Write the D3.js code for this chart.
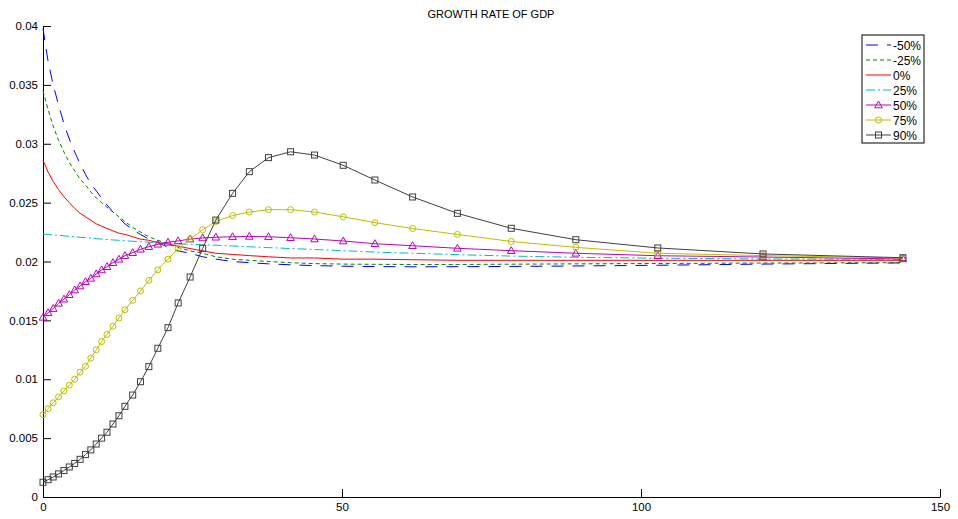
<!DOCTYPE html>
<html><head><meta charset="utf-8">
<script src="https://cdn.jsdelivr.net/npm/d3@7"></script>
<style>
body{margin:0;background:#fff}
svg{display:block}
text{font-family:"Liberation Sans",Arial,Helvetica,sans-serif}
</style>
</head><body>
<svg id="chart" width="958" height="519"></svg>
<script>
// ---------- DATA ----------
const title = "GROWTH RATE OF GDP";
const seriesLabels = ["-50%", "-25%", "0%", "25%", "50%", "75%", "90%"];
const horizon = [0, 0.85, 1.7, 2.6, 3.5, 4.4, 5.3, 6.2, 7.1, 8.0, 8.9, 9.8, 10.7, 11.7, 12.7, 13.7,
  15.0, 16.3, 17.7, 19.2, 20.9, 22.6, 24.6, 26.7, 28.9, 31.7, 34.5, 37.7, 41.4, 45.4, 50.2, 55.5,
  61.8, 69.3, 78.3, 89.1, 102.8, 120.4, 143.8];
const gMinus50 = [0.0398, 0.0370, 0.0350, 0.0333, 0.0317, 0.0304, 0.0293, 0.0283, 0.0274, 0.0266, 0.0260, 0.0254, 0.0248, 0.0242, 0.0237, 0.0232,
  0.0227, 0.0223, 0.0219, 0.0216, 0.0212, 0.0209, 0.0207, 0.0204, 0.0202, 0.0200, 0.0199, 0.0198, 0.01972, 0.01965, 0.0196, 0.01957,
  0.01955, 0.01956, 0.01958, 0.01962, 0.01968, 0.01978, 0.01988];
const gMinus25 = [0.0345, 0.0329, 0.0315, 0.0303, 0.0293, 0.0284, 0.0277, 0.0270, 0.0265, 0.0259, 0.0254, 0.0250, 0.0246, 0.0242, 0.0238, 0.0234,
  0.0229, 0.0225, 0.0221, 0.0218, 0.0215, 0.0212, 0.0209, 0.0207, 0.0204, 0.0202, 0.0201, 0.0200, 0.0199, 0.01982, 0.01978, 0.01976,
  0.01975, 0.01975, 0.01977, 0.0198, 0.01983, 0.01987, 0.0199];
const gZero = [0.0286, 0.0276, 0.0268, 0.0261, 0.0255, 0.0250, 0.0245, 0.0241, 0.0238, 0.0235, 0.0232, 0.0230, 0.0228, 0.0226, 0.0224, 0.0223,
  0.0221, 0.0219, 0.0218, 0.0216, 0.0215, 0.0213, 0.0211, 0.0209, 0.0207, 0.0206, 0.0205, 0.0204, 0.0203, 0.0203, 0.0202, 0.0202,
  0.02015, 0.0201, 0.0201, 0.0201, 0.0201, 0.0201, 0.0201];
const gPlus25 = [0.02233, 0.0223, 0.02226, 0.02222, 0.02218, 0.02214, 0.0221, 0.02206, 0.02202, 0.02198, 0.02194, 0.0219, 0.02187, 0.02183, 0.0218, 0.02176,
  0.02172, 0.02168, 0.02164, 0.0216, 0.02155, 0.0215, 0.02146, 0.02142, 0.02138, 0.02132, 0.02125, 0.02118, 0.0211, 0.02102, 0.02092, 0.0208,
  0.0207, 0.02058, 0.02046, 0.02036, 0.02028, 0.02022, 0.02018];
const gPlus50 = [0.01526, 0.01565, 0.0160, 0.01645, 0.0168, 0.01718, 0.01758, 0.01792, 0.01828, 0.01857, 0.01894, 0.01928, 0.01956, 0.0199, 0.02019, 0.0205,
  0.02075, 0.02104, 0.02126, 0.02146, 0.02163, 0.02175, 0.0219, 0.0220, 0.02206, 0.0221, 0.02213, 0.0221, 0.02202, 0.02191, 0.02174, 0.02151,
  0.02134, 0.02112, 0.02092, 0.0207, 0.02049, 0.02038, 0.02022];
const gPlus75 = [0.0070, 0.0075, 0.0080, 0.0085, 0.0090, 0.0095, 0.0100, 0.0106, 0.0111, 0.0118, 0.0125, 0.0132, 0.0138, 0.0145, 0.0152, 0.0159,
  0.0167, 0.0175, 0.0184, 0.0193, 0.0202, 0.0211, 0.0219, 0.0227, 0.0234, 0.0239, 0.0242, 0.0244, 0.0244, 0.0242, 0.0238, 0.0233,
  0.0228, 0.0223, 0.0217, 0.0212, 0.0207, 0.0205, 0.0203];
const gPlus90 = [0.00125, 0.00147, 0.0017, 0.00196, 0.00225, 0.00255, 0.00285, 0.0032, 0.0036, 0.0040, 0.0045, 0.0050, 0.0055, 0.0062, 0.0069, 0.0077,
  0.00866, 0.00979, 0.01107, 0.01263, 0.01438, 0.01648, 0.01868, 0.02112, 0.02352, 0.02579, 0.02763, 0.02882, 0.02932, 0.02904, 0.02817, 0.02692,
  0.02548, 0.02409, 0.02282, 0.02185, 0.02115, 0.02064, 0.02032];
const xTickValues = [0, 50, 100, 150];
const yTickValues = [0, 0.005, 0.01, 0.015, 0.02, 0.025, 0.03, 0.035, 0.04];
const yTickLabels = ["0", "0.005", "0.01", "0.015", "0.02", "0.025", "0.03", "0.035", "0.04"];

const seriesValues = [gMinus50, gMinus25, gZero, gPlus25, gPlus50, gPlus75, gPlus90];

// ---------- STYLE ----------
const styles = [
  {color: "#0000ff", dash: "12,9", marker: null},
  {color: "#008000", dash: "4,3", marker: null},
  {color: "#ff0000", dash: null, marker: null},
  {color: "#00bfbf", dash: "9,3,2,3", marker: null},
  {color: "#bf00bf", dash: null, marker: "triangle"},
  {color: "#bfbf00", dash: null, marker: "circle"},
  {color: "#404040", dash: null, marker: "square"}
];

const svg = d3.select("#chart");
const x = d3.scaleLinear().domain([0, 150]).range([43, 940]);
const y = d3.scaleLinear().domain([0, 0.04]).range([497, 26]);

// title
svg.append("text").attr("x", 491).attr("y", 18).attr("text-anchor", "middle")
  .attr("font-size", 11).attr("fill", "#000").text(title);

// axes
const yAxis = d3.axisLeft(y).tickValues(yTickValues)
  .tickFormat((d, i) => yTickLabels[i]).tickSize(-8).tickSizeOuter(0).tickPadding(5);
const gy = svg.append("g").attr("transform", "translate(43,0)").call(yAxis);
gy.selectAll("text").attr("font-size", 11.5).attr("fill", "#000");
gy.selectAll("line,path").attr("stroke", "#000");

const xAxis = d3.axisBottom(x).tickValues(xTickValues).tickFormat(d3.format("d"))
  .tickSize(-8).tickSizeOuter(0).tickPadding(6);
const gx = svg.append("g").attr("transform", "translate(0,497)").call(xAxis);
gx.selectAll("text").attr("font-size", 11.5).attr("fill", "#000");
gx.selectAll("line,path").attr("stroke", "#000");

// markers
function drawMarker(g, type, cx, cy, color) {
  if (type === "triangle") {
    g.append("path").attr("d", `M${cx},${cy-4}L${cx+3.8},${cy+2.8}L${cx-3.8},${cy+2.8}Z`)
      .attr("fill", "none").attr("stroke", color).attr("stroke-width", 1);
  } else if (type === "circle") {
    g.append("circle").attr("cx", cx).attr("cy", cy).attr("r", 3)
      .attr("fill", "none").attr("stroke", color).attr("stroke-width", 1);
  } else if (type === "square") {
    g.append("rect").attr("x", cx - 3).attr("y", cy - 3).attr("width", 6).attr("height", 6)
      .attr("fill", "none").attr("stroke", color).attr("stroke-width", 1);
  }
}

const line = d3.line().x(d => x(d[0])).y(d => y(d[1]));
const plot = svg.append("g");
seriesValues.forEach((vals, si) => {
  const st = styles[si];
  const pts = horizon.map((h, i) => [h, vals[i]]);
  const g = plot.append("g");
  g.append("path").datum(pts).attr("d", line).attr("fill", "none")
    .attr("stroke", st.color).attr("stroke-width", 1)
    .attr("stroke-dasharray", st.dash);
  if (st.marker) pts.forEach(p => drawMarker(g, st.marker, x(p[0]), y(p[1]), st.color));
});

// legend
const lg = svg.append("g");
lg.append("rect").attr("x", 862).attr("y", 35).attr("width", 62).attr("height", 108)
  .attr("fill", "#fff").attr("stroke", "#000").attr("stroke-width", 1);
seriesLabels.forEach((lab, i) => {
  const st = styles[i];
  const ly = 45 + i * 15;
  lg.append("line").attr("x1", 866).attr("x2", 891).attr("y1", ly).attr("y2", ly)
    .attr("stroke", st.color).attr("stroke-width", 1).attr("stroke-dasharray", st.dash);
  if (st.marker) drawMarker(lg, st.marker, 878.5, ly, st.color);
  lg.append("text").attr("x", 893).attr("y", ly + 4.5).attr("font-size", 12).attr("fill", "#000").text(lab);
});
</script>
</body></html>
